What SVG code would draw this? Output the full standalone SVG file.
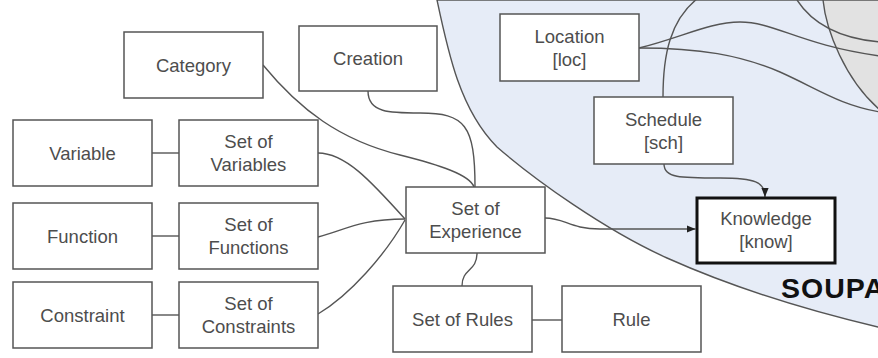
<svg xmlns="http://www.w3.org/2000/svg" width="878" height="358" viewBox="0 0 878 358">
<defs>
<style>
.bx{fill:#fff;stroke:#555;stroke-width:1.5}
.kb{fill:#fff;stroke:#111;stroke-width:3}
.t{font-family:"Liberation Sans",Arial,sans-serif;font-size:18.5px;fill:#4d4d4d;text-anchor:middle}
.c{fill:none;stroke:#555;stroke-width:1.4}
.b{stroke:#555;stroke-width:1.4}
</style>
<marker id="ah" viewBox="0 0 10 10" refX="10" refY="5" markerWidth="9" markerHeight="9" markerUnits="userSpaceOnUse" orient="auto">
<path d="M0,1 L10,5 L0,9 Z" fill="#222"/>
</marker>
</defs>
<rect width="878" height="358" fill="#fff"/>
<g id="soupa-region">
<path class="b" fill="#e6ecf7" d="M437,0 C448,52 460,110 497,147 C535,180 605,230 667,258 C734,288 806,310 878,327 L880,327 L880,0 Z"/>
<path class="b" fill="#e2e2e2" d="M823,0 C826,30 845,80 880,110 L880,0 Z"/>
<path class="c" d="M797,0 C810,20 835,38 880,42"/>
<text x="781" y="298" style="font-family:'Liberation Sans',Arial,sans-serif;font-size:28.5px;font-weight:bold;fill:#111;letter-spacing:1px">SOUPA</text>
</g>
<g id="connectors">
<path class="c" d="M663,97 C663,55 670,20 698,-2"/>
<path class="c" d="M639,48 C680,38 710,22 740,22 C775,22 800,45 880,56"/>
<path class="c" d="M639,48 C700,48 740,55 780,72 C820,90 840,105 880,112"/>
<path class="c" d="M664,164 C664,178 680,178 720,178 C755,178 765,182 765,197" marker-end="url(#ah)"/>
<path class="c" d="M545,218 C565,218 570,229 600,229 L695.5,229" marker-end="url(#ah)"/>
<path class="c" d="M263,65 C300,110 340,140 400,155 C440,165 470,175 474,187"/>
<path class="c" d="M368,91 C368,113 390,113 420,113 C465,113 475,125 475,187"/>
<path class="c" d="M318,153 C345,153 370,180 405,219"/>
<path class="c" d="M318,237 C345,230 360,219 405,219"/>
<path class="c" d="M318,314 C350,295 385,255 405,220"/>
<path class="c" d="M477,253 C477,272 462,268 462,286"/>
<path class="c" d="M152,153 H179"/>
<path class="c" d="M152,236 H179"/>
<path class="c" d="M152,315 H179"/>
<path class="c" d="M532,320 H562"/>
</g>
<g id="category"><rect class="bx" x="124" y="32" width="139" height="66"/><text class="t" x="193.5" y="71.5">Category</text></g>
<g id="creation"><rect class="bx" x="299" y="26" width="138" height="65"/><text class="t" x="368" y="64.5">Creation</text></g>
<g id="variable"><rect class="bx" x="13" y="120" width="139" height="66"/><text class="t" x="82.5" y="159.5">Variable</text></g>
<g id="set-of-variables"><rect class="bx" x="179" y="120" width="139" height="66"/><text class="t" x="248.5" y="148">Set of</text><text class="t" x="248.5" y="171">Variables</text></g>
<g id="function"><rect class="bx" x="13" y="203" width="139" height="66"/><text class="t" x="82.5" y="242.5">Function</text></g>
<g id="set-of-functions"><rect class="bx" x="179" y="203" width="139" height="66"/><text class="t" x="248.5" y="231">Set of</text><text class="t" x="248.5" y="254">Functions</text></g>
<g id="constraint"><rect class="bx" x="13" y="282" width="139" height="66"/><text class="t" x="82.5" y="321.5">Constraint</text></g>
<g id="set-of-constraints"><rect class="bx" x="179" y="282" width="139" height="66"/><text class="t" x="248.5" y="310">Set of</text><text class="t" x="248.5" y="333">Constraints</text></g>
<g id="set-of-experience"><rect class="bx" x="406" y="187" width="139" height="66"/><text class="t" x="475.5" y="215">Set of</text><text class="t" x="475.5" y="238">Experience</text></g>
<g id="set-of-rules"><rect class="bx" x="393" y="286" width="139" height="66"/><text class="t" x="462.5" y="325.5">Set of Rules</text></g>
<g id="rule"><rect class="bx" x="562" y="286" width="139" height="66"/><text class="t" x="631.5" y="325.5">Rule</text></g>
<g id="location"><rect class="bx" x="500" y="14" width="139" height="67"/><text class="t" x="569.5" y="42.5">Location</text><text class="t" x="569.5" y="65.5">[loc]</text></g>
<g id="schedule"><rect class="bx" x="594" y="97" width="139" height="67"/><text class="t" x="663.5" y="125.5">Schedule</text><text class="t" x="663.5" y="148.5">[sch]</text></g>
<g id="knowledge"><rect class="kb" x="697" y="198" width="138" height="65"/><text class="t" x="766" y="225">Knowledge</text><text class="t" x="766" y="248">[know]</text></g>
</svg>
